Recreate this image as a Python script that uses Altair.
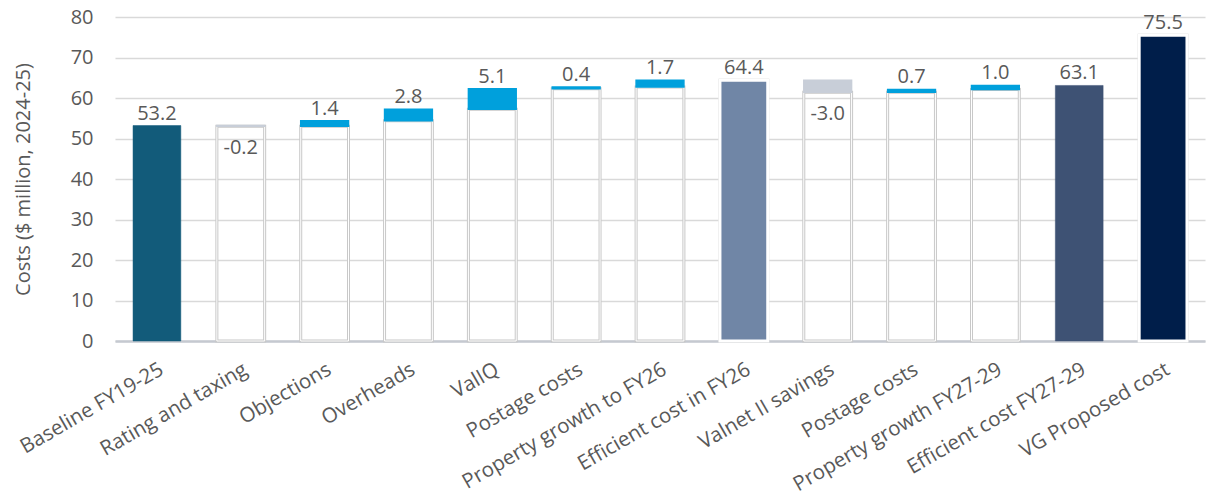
import altair as alt
import pandas as pd

categories = ["Baseline FY19-25", "Rating and taxing", "Objections", "Overheads", "ValIQ",
              "Postage costs", "Property growth to FY26", "Efficient cost in FY26",
              "Valnet II savings", "Postage costs", "Property growth FY27-29",
              "Efficient cost FY27-29", "VG Proposed cost"]
values = [53.2, -0.2, 1.4, 2.8, 5.1, 0.4, 1.7, 64.4, -3.0, 0.7, 1.0, 63.1, 75.5]
kinds = ["total", "delta", "delta", "delta", "delta", "delta", "delta", "total",
         "delta", "delta", "delta", "total", "total"]
total_colors = ["#125B7A", None, None, None, None, None, None, "#7086A6",
                None, None, None, "#3E5274", "#001E4A"]
outlined = [False, False, False, False, False, False, False, True,
            False, False, False, False, True]
UP_COLOR = "#00A0DC"
DOWN_COLOR = "#C8CED8"

rows = []
running = 0.0
for i, (c, v, k) in enumerate(zip(categories, values, kinds)):
    if k == "total":
        lo, hi = 0.0, v
        base_hi = v if outlined[i] else 0.0
        color = total_colors[i]
        stroke = "white" if outlined[i] else color
        sw = 3.0 if outlined[i] else 0.5
        running = v
        pos = "above"
        ly = hi
    else:
        start, end = running, running + v
        lo, hi = min(start, end), max(start, end)
        base_hi = lo
        color = UP_COLOR if v > 0 else DOWN_COLOR
        stroke = color
        sw = 1.5
        running = end
        pos = "above" if v > 0 else "below"
        ly = hi if v > 0 else lo
    rows.append(dict(idx=i, lo=lo, hi=hi, base_lo=0.0, base_hi=base_hi,
                     color=color, stroke=stroke, sw=sw, pos=pos, ly=ly,
                     label=f"{v:.1f}"))
df = pd.DataFrame(rows)

FONT = "Open Sans"
GREY = "#595959"
label_expr = "[" + ",".join(f"'{c}'" for c in categories) + "][datum.value]"

x = alt.X("idx:O", title=None,
          scale=alt.Scale(paddingInner=0.43, paddingOuter=0.215),
          axis=alt.Axis(labelExpr=label_expr, labelAngle=-30, labelFontSize=20.5,
                        labelColor=GREY, labelFont=FONT, ticks=False, labelPadding=18,
                        labelLimit=0, labelFontWeight="normal",
                        domainColor="#C5C9D0", domainWidth=2.5))
yscale = alt.Scale(domain=[0, 80], nice=False)
yaxis = alt.Axis(values=[0, 10, 20, 30, 40, 50, 60, 70, 80], grid=True,
                 gridColor="#D9D9D9", gridWidth=1.5, domain=False, ticks=False,
                 tickSize=0, labelPadding=22, labelFontSize=20, labelColor=GREY,
                 labelFont=FONT, title="Costs ($ million, 2024-25)", titleFontSize=20,
                 titleFont=FONT, titleColor=GREY, titleFontWeight="normal",
                 titlePadding=37)

base = alt.Chart(df)

base_outer = base.transform_filter("datum.base_hi > 0").mark_bar(
    fill="transparent", stroke="#C8C8C8", strokeWidth=3
).encode(x=x, y=alt.Y("base_lo:Q", scale=yscale, axis=yaxis), y2="base_hi:Q")

base_inner = base.transform_filter("datum.base_hi > 0").mark_bar(
    fill="transparent", stroke="white", strokeWidth=1
).encode(x=x, y=alt.Y("base_lo:Q", scale=yscale), y2="base_hi:Q")

bars = base.mark_bar().encode(
    x=x,
    y=alt.Y("lo:Q", scale=yscale),
    y2="hi:Q",
    fill=alt.Fill("color:N", scale=None),
    stroke=alt.Stroke("stroke:N", scale=None),
    strokeWidth=alt.StrokeWidth("sw:Q", scale=None),
)

above = base.transform_filter("datum.pos == 'above'").mark_text(
    baseline="bottom", dy=-2, fontSize=20, font=FONT, color=GREY
).encode(x=x, y=alt.Y("ly:Q", scale=yscale), text="label:N")

below = base.transform_filter("datum.pos == 'below'").mark_text(
    baseline="top", dy=12, fontSize=20, font=FONT, color=GREY
).encode(x=x, y=alt.Y("ly:Q", scale=yscale), text="label:N")

chart = alt.layer(base_outer, base_inner, bars, above, below).properties(
    width=1090, height=324,
    autosize=alt.AutoSizeParams(type="none"),
    padding={"left": 115, "top": 17, "right": 5, "bottom": 163},
    background="white",
).configure_view(stroke=None)

chart.save("out.html", embed_options={"renderer": "svg", "actions": False})
